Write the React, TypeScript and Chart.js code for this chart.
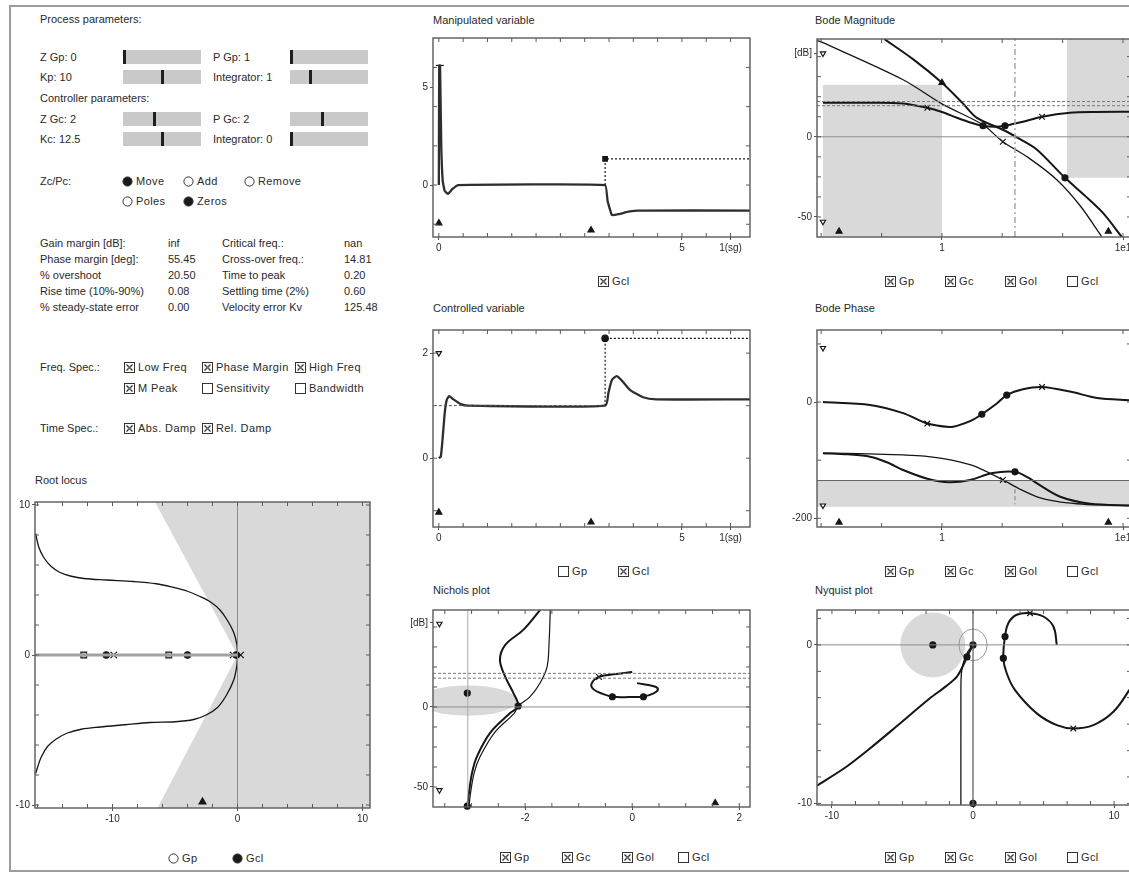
import React, { useEffect, useRef } from "react";
import { Chart, registerables } from "chart.js";

Chart.register(...registerables);

const FONT = '"Liberation Sans", Arial, Helvetica, sans-serif';
Chart.defaults.font.family = FONT;
Chart.defaults.font.size = 10;
Chart.defaults.color = "#2a2a2a";

const INK = "#161616";
const SHADE = "#d9d9d9";
const AXG = "#8c8c8c";

// ---------------- Root locus ----------------
const rlUpperX = [-16.15, -15.9, -15.5, -14.9, -14.2, -13.3, -12.3, -10.5, -8.3, -6.5, -5.1, -4.0, -3.0, -2.1, -1.4, -0.8, -0.3, -0.05, 0];
const rlUpperY = [8.1, 7.2, 6.5, 5.9, 5.5, 5.25, 5.1, 5.0, 4.9, 4.75, 4.5, 4.25, 3.9, 3.5, 3.0, 2.3, 1.5, 0.7, 0];
const rlLowerX = [0, -0.05, -0.3, -0.9, -1.6, -2.5, -3.5, -5.0, -7.0, -9.0, -11.0, -12.5, -13.6, -14.5, -15.2, -15.7, -16.0, -16.15];
const rlLowerY = [0, -0.7, -1.67, -2.7, -3.5, -4.0, -4.3, -4.45, -4.5, -4.65, -4.8, -4.95, -5.2, -5.6, -6.1, -6.8, -7.5, -7.9];
const rlRealX = [-16.2, 0];
const rlRealY = [0, 0];
const rlImagX = [0, 0];
const rlImagY = [-10.2, 10.2];
const rlSquareX = [-12.3, -5.5];
const rlSquareY = [0, 0];
const rlDotX = [-10.5, -4.0, -0.1];
const rlDotY = [0, 0, 0];
const rlCrossX = [-9.9, -0.35, 0.25];
const rlCrossY = [0, 0, 0];
const rlTriX = [-2.8];
const rlTriY = [-9.8];
const rlWedgeX = [-6.6, 0, -6.4, 10.6, 10.6];
const rlWedgeY = [10.2, 0, -10.2, -10.2, 10.2];
const rlTicksX = [-10, 0, 10];
const rlTicksY = [-10, 0, 10];
const rlMinorX = [-16, -14, -12, -10, -8, -6, -4, -2, 0, 2, 4, 6, 8, 10];
const rlMinorY = [-10, -8, -6, -4, -2, 0, 2, 4, 6, 8, 10];

// ---------------- Manipulated variable ----------------
const mvT = [0, 0.008, 0.025, 0.05, 0.08, 0.12, 0.19, 0.28, 0.4, 3.42, 3.47, 3.56, 3.7, 3.9, 4.1, 6.4];
const mvU = [0, 6.1, 6.1, 2.0, 0.2, -0.3, -0.45, -0.2, 0, 0, -0.8, -1.53, -1.48, -1.36, -1.3, -1.3];
const mvStepX = [3.42, 3.42, 6.4];
const mvStepY = [0, 1.33, 1.33];
const mvSqX = [3.42];
const mvSqY = [1.33];
const mvTriX = [0, 3.13];
const mvTriY = [-1.94, -2.3];
const mvPeakX = [0.02];
const mvPeakY = [6.1];
const mvTicksX = [0, 5, 6];
const mvLabelsX = ["0", "5", "1(sg)"];
const mvTicksY = [0, 5];
const timeMinorX = [0, 0.5, 1, 1.5, 2, 2.5, 3, 3.5, 4, 4.5, 5, 5.5, 6];
const mvMinorY = [-2, 0, 2, 4, 6];

// ---------------- Controlled variable ----------------
const cvT = [0, 0.04, 0.08, 0.12, 0.16, 0.21, 0.3, 0.45, 0.6, 3.42, 3.49, 3.56, 3.66, 3.78, 3.93, 4.2, 4.47, 6.4];
const cvY = [0, 0.03, 0.4, 0.85, 1.1, 1.18, 1.12, 1.03, 1.0, 1.0, 1.25, 1.49, 1.56, 1.46, 1.3, 1.16, 1.12, 1.12];
const cvRefX = [0, 3.42];
const cvRefY = [1, 1];
const cvStepX = [3.42, 3.42, 6.4];
const cvStepY = [1.0, 2.28, 2.28];
const cvDotX = [3.42];
const cvDotY = [2.28];
const cvTriX = [0, 3.13];
const cvTriY = [-1.03, -1.22];
const cvDownX = [0];
const cvDownY = [2.0];
const cvTicksY = [0, 2];
const cvMinorY = [-1, 0, 1, 2];

// ---------------- Nichols ----------------
const nicGolX = [-1.72, -2.04, -2.37, -2.47, -2.37, -2.22, -2.13, -2.28, -2.65, -2.9, -2.99, -3.05, -3.08];
const nicGolY = [60.6, 48, 38.8, 29.4, 18.8, 8.8, 0.6, -3.8, -16, -31, -41, -54, -62.5];
const nicGpX = [-1.53, -1.55, -1.59, -1.72, -1.91, -2.13, -2.2, -2.57, -2.84, -2.95, -3.02, -3.05];
const nicGpY = [60.6, 41.9, 25, 15, 6.3, 0.6, -3.8, -16, -31, -41, -54, -62.5];
const nicGcX = [0.0, -0.3, -0.62, -0.76, -0.72, -0.55, -0.37, -0.05, 0.21, 0.4, 0.48, 0.42, 0.09];
const nicGcY = [21.9, 20.6, 18.8, 14.5, 11.0, 8.2, 6.4, 6.2, 6.5, 8.5, 10.8, 12.8, 14.9];
const nicPiX = [-3.07, -3.07];
const nicPiY = [-62.5, 60.6];
const nicZeroX = [-3.72, 2.2];
const nicZeroY = [0, 0];
const nicSpecAX = [-3.72, 2.2];
const nicSpecAY = [21, 21];
const nicSpecBY = [18, 18];
const nicDotX = [-3.08, -2.13, -0.37, 0.21, -3.08];
const nicDotY = [8.7, 0.6, 6.4, 6.4, -62];
const nicCrossX = [-0.62];
const nicCrossY = [18.8];
const nicTriX = [1.55];
const nicTriY = [-60];
const nicDownX = [-3.6, -3.6];
const nicDownY = [52, -52];
const nicEllipse = { cx: -3.07, cy: 4, rx: 0.92, ry: 9.5 };
const nicTicksX = [-2, 0, 2];
const nicTicksY = [-50, 0, 52.5];
const nicLabelsY = ["-50", "0", "[dB]"];
const nicMinorX = [-3.5, -3, -2.5, -2, -1.5, -1, -0.5, 0, 0.5, 1, 1.5, 2];
const nicMinorY = [-50, -37.5, -25, -12.5, 0, 12.5, 25, 37.5, 50];

// ---------------- Bode magnitude ----------------
const bmGcX = [0.22, 0.4, 0.61, 0.83, 1.0, 1.21, 1.45, 1.685, 1.95, 2.23, 2.8, 3.57, 5.1, 7.0, 11.07];
const bmGcY = [21.3, 21.2, 20.8, 18.1, 15.5, 11.9, 8.8, 6.9, 6.3, 6.9, 9.4, 12.5, 15.0, 15.5, 15.6];
const bmGpX = [0.204, 0.22, 0.61, 1.0, 1.685, 2.17, 3.0, 4.32, 5.8, 7.65];
const bmGpY = [60, 58.7, 35.6, 20.5, 7.5, -3.1, -13, -26.9, -43, -62.5];
const bmGolX = [0.48, 0.7, 1.0, 1.3, 1.56, 2.17, 2.7, 3.35, 4.78, 6.2, 7.75, 9.85];
const bmGolY = [61, 48, 33.7, 21, 11.8, 4.4, -1.5, -8.1, -25.6, -37, -47.5, -62.5];
const bmZeroX = [0.204, 11.07];
const bmZeroY = [0, 0];
const bmSpecAY = [22, 22];
const bmSpecBY = [19.4, 19.4];
const bmWcX = [2.53, 2.53];
const bmWcY = [-62.5, 61];
const bmLowX = [0.22, 1.0, 1.0, 0.22];
const bmLowY = [32.5, 32.5, -62.5, -62.5];
const bmHighX = [4.9, 11.07, 11.07, 4.9];
const bmHighY = [61, 61, -25.6, -25.6];
const bmCrossX = [0.83, 3.57, 2.17];
const bmCrossY = [18.1, 12.5, -3.1];
const bmDotX = [1.685, 2.23, 4.78];
const bmDotY = [6.9, 6.9, -25.6];
const bmTriX = [1.0, 0.27, 8.3];
const bmTriY = [33.7, -59, -59];
const bmDownX = [0.22, 0.22];
const bmDownY = [52, -53];
const bodeTicksX = [1, 10];
const bodeLabelsX = ["1", "1e1"];
const bmTicksY = [-50, 0, 52];
const bmLabelsY = ["-50", "0", "[dB]"];
const bodeMinorX = [0.215, 0.464, 1, 2.15, 4.64, 10];
const bmMinorY = [-50, -37.5, -25, -12.5, 0, 12.5, 25, 37.5, 50];

// ---------------- Bode phase ----------------
const bpGcX = [0.22, 0.4, 0.61, 0.83, 1.1, 1.21, 1.45, 1.66, 2.0, 2.28, 2.8, 3.57, 5.1, 7.2, 11.07];
const bpGcY = [0, -5, -19, -37, -43, -41, -32, -21, -3, 12, 22, 26, 18, 7, 3];
const bpGpX = [0.22, 0.4, 0.61, 0.8, 1.0, 1.25, 1.56, 2.17, 2.7, 3.35, 4.3, 5.57, 7.5, 11.07];
const bpGpY = [-88, -89, -91, -93, -97, -103, -112, -134, -150, -163, -171, -175, -177, -178];
const bpGolX = [0.22, 0.3, 0.4, 0.5, 0.61, 0.83, 1.1, 1.43, 1.9, 2.53, 3.0, 3.35, 4.5, 6.6, 11.07];
const bpGolY = [-88, -90, -94, -104, -117, -132, -138, -134, -122, -120, -130, -140, -163, -175, -178];
const bpBandX = [0.204, 11.07, 11.07, 0.204];
const bpBandY = [-135, -135, -180, -180];
const bpLineX = [0.204, 11.07];
const bpLineY = [-135, -135];
const bpWcX = [2.53, 2.53];
const bpWcY = [-150, -176];
const bpCrossX = [0.83, 3.57, 2.17];
const bpCrossY = [-37, 26, -134];
const bpDotX = [1.66, 2.28, 2.53];
const bpDotY = [-21, 12, -120];
const bpTriX = [0.27, 8.3];
const bpTriY = [-207, -207];
const bpDownX = [0.22, 0.22];
const bpDownY = [93, -178];
const bpTicksY = [-200, 0];
const bpMinorY = [-200, -100, 0, 100];

// ---------------- Nyquist ----------------
const nqGolX = [-11.1, -9.0, -7.4, -5.5, -3.1, -1.9, -1.14, -0.7, -0.43, -0.2, 0];
const nqGolY = [-8.9, -7.7, -6.6, -5.2, -3.4, -2.6, -2.0, -1.3, -0.76, -0.35, 0];
const nqGpX = [-0.86, -0.86, -0.85, -0.78, -0.6, -0.35, 0];
const nqGpY = [-10.1, -4, -2.2, -1.5, -0.9, -0.4, 0];
const nqGcX = [5.94, 5.7, 4.99, 4.04, 3.1, 2.5, 2.27, 2.15, 2.39, 2.98, 4.52, 5.94, 7.11, 8.53, 9.95, 11.2];
const nqGcY = [0, 1.16, 1.79, 2.0, 1.9, 1.37, 0.53, -0.84, -1.79, -2.85, -4.32, -5.06, -5.27, -5.06, -4.22, -2.7];
const nqVX = [0, 0];
const nqVY = [-10.1, 2.2];
const nqHX = [-11.06, 11.2];
const nqHY = [0, 0];
const nqDotX = [-2.85, 0, -0.43, 2.27, 2.15, 0];
const nqDotY = [0, 0, -0.76, 0.53, -0.84, -10.0];
const nqCrossX = [4.04, 7.11];
const nqCrossY = [2.0, -5.27];
const nqSpecCircle = { cx: -2.85, cy: 0, rx: 2.3, ry: 2.05 };
const nqUnitCircle = { cx: 0, cy: 0, rx: 1, ry: 1 };
const nqTicksX = [-10, 0, 10];
const nqTicksY = [-10, 0];
const nqMinorX = [-10, -8.33, -6.67, -5, -3.33, -1.67, 0, 1.67, 3.33, 5, 6.67, 8.33, 10];
const nqMinorY = [-10, -8.33, -6.67, -5, -3.33, -1.67, 0, 1.67];

// ---------------- helpers ----------------
const P = (xs: number[], ys: number[]) => xs.map((x, i) => ({ x, y: ys[i] }));
const curve = (xs: number[], ys: number[], width = 1.6, color = INK, dash: number[] = [], tension = 0.3) => ({
  data: P(xs, ys), showLine: true, borderColor: color, borderWidth: width, borderDash: dash,
  pointRadius: 0, tension, fill: false,
});
const marks = (xs: number[], ys: number[], style: string, r = 3.5, fill = INK, rot = 0) => ({
  data: P(xs, ys), showLine: false, pointStyle: style, pointRadius: r, pointBackgroundColor: fill,
  pointBorderColor: INK, pointBorderWidth: 1.2, pointRotation: rot, clip: false,
});

const PAD_L = 34, PAD_T = 6, PAD_R = 8, PAD_B = 22;

type Axis = { type?: string; min: number; max: number; ticks: number[]; labels?: string[]; minor: number[] };
type Spec = { L: number; T: number; R: number; B: number; x: Axis; y: Axis; datasets: any[]; polys?: any[]; ellipses?: any[] };

function makeFramePlugin(spec: Spec) {
  const polys = spec.polys || [];
  const ellipses = spec.ellipses || [];
  const xMinor = spec.x.minor;
  const yMinor = spec.y.minor;
  return {
    id: "frame",
    beforeDatasetsDraw(chart: any) {
      const { ctx, chartArea: a } = chart;
      const xs = chart.scales.x, ys = chart.scales.y;
      ctx.save();
      ctx.beginPath();
      ctx.rect(a.left, a.top, a.right - a.left, a.bottom - a.top);
      ctx.clip();
      polys.forEach((p: any) => {
        ctx.beginPath();
        p.xs.forEach((x: number, i: number) => {
          const px = xs.getPixelForValue(x), py = ys.getPixelForValue(p.ys[i]);
          if (i) ctx.lineTo(px, py); else ctx.moveTo(px, py);
        });
        ctx.closePath();
        ctx.fillStyle = p.color;
        ctx.fill();
      });
      ellipses.forEach((e: any) => {
        const cx = xs.getPixelForValue(e.cx), cy = ys.getPixelForValue(e.cy);
        const rx = Math.abs(xs.getPixelForValue(e.cx + e.rx) - cx);
        const ry = Math.abs(ys.getPixelForValue(e.cy + e.ry) - cy);
        ctx.beginPath();
        ctx.ellipse(cx, cy, rx, ry, 0, 0, Math.PI * 2);
        if (e.fillColor) { ctx.fillStyle = e.fillColor; ctx.fill(); }
        if (e.strokeColor) { ctx.strokeStyle = e.strokeColor; ctx.lineWidth = 1; ctx.stroke(); }
      });
      ctx.restore();
    },
    afterDatasetsDraw(chart: any) {
      const { ctx, chartArea: a } = chart;
      const xs = chart.scales.x, ys = chart.scales.y;
      ctx.save();
      ctx.strokeStyle = "#5a5a5a";
      ctx.lineWidth = 1.4;
      ctx.strokeRect(a.left, a.top, a.right - a.left, a.bottom - a.top);
      ctx.lineWidth = 1;
      ctx.beginPath();
      xMinor.forEach((v: number) => {
        const p = xs.getPixelForValue(v);
        if (p < a.left - 0.5 || p > a.right + 0.5) return;
        ctx.moveTo(p, a.top); ctx.lineTo(p, a.top + 4);
        ctx.moveTo(p, a.bottom); ctx.lineTo(p, a.bottom - 4);
      });
      yMinor.forEach((v: number) => {
        const p = ys.getPixelForValue(v);
        if (p < a.top - 0.5 || p > a.bottom + 0.5) return;
        ctx.moveTo(a.left, p); ctx.lineTo(a.left + 4, p);
        ctx.moveTo(a.right, p); ctx.lineTo(a.right - 4, p);
      });
      ctx.stroke();
      ctx.restore();
    },
  };
}

function axisCfg(a: Axis, dir: "x" | "y") {
  const labels = a.labels || a.ticks.map((v) => String(v));
  return {
    type: a.type || "linear",
    position: dir === "x" ? "bottom" : "left",
    min: a.min,
    max: a.max,
    grid: { display: true, drawOnChartArea: false, drawTicks: true, tickLength: 3, color: "#555" },
    border: { display: false },
    ticks: {
      autoSkip: false, maxRotation: 0, minRotation: 0, padding: 2, color: "#2a2a2a",
      font: { family: FONT, size: 10 },
      callback: (_v: any, i: number) => labels[i] ?? "",
    },
    afterBuildTicks: (s: any) => { s.ticks = a.ticks.map((v) => ({ value: v })); },
    afterFit: (s: any) => {
      if (dir === "x") s.height = PAD_B; else s.width = PAD_L;
      s.paddingLeft = 0; s.paddingRight = 0; s.paddingTop = 0; s.paddingBottom = 0;
    },
  };
}

function buildConfig(spec: Spec) {
  return {
    type: "scatter",
    data: { datasets: spec.datasets },
    options: {
      responsive: false,
      animation: false,
      events: [],
      layout: { padding: { left: 0, top: PAD_T, right: PAD_R, bottom: 0 } },
      plugins: { legend: { display: false }, tooltip: { enabled: false } },
      scales: { x: axisCfg(spec.x, "x"), y: axisCfg(spec.y, "y") },
    },
    plugins: [makeFramePlugin(spec)],
  };
}

function Plot({ spec }: { spec: Spec }) {
  const ref = useRef<HTMLCanvasElement>(null);
  const w = spec.R - spec.L + PAD_L + PAD_R;
  const h = spec.B - spec.T + PAD_T + PAD_B;
  useEffect(() => {
    const chart = new Chart(ref.current as HTMLCanvasElement, buildConfig(spec) as any);
    return () => chart.destroy();
  }, [spec]);
  return (
    <canvas ref={ref} width={w} height={h}
      style={{ position: "absolute", left: spec.L - PAD_L, top: spec.T - PAD_T, width: w, height: h }} />
  );
}

// ---------------- chart specs ----------------
const rootLocus: Spec = {
  L: 35, T: 502, R: 370, B: 808,
  x: { min: -16.2, max: 10.6, ticks: rlTicksX, minor: rlMinorX },
  y: { min: -10.2, max: 10.2, ticks: rlTicksY, minor: rlMinorY },
  polys: [{ xs: rlWedgeX, ys: rlWedgeY, color: SHADE }],
  datasets: [
    curve(rlImagX, rlImagY, 1, AXG, [], 0),
    curve(rlRealX, rlRealY, 3, "#a2a2a2", [], 0),
    curve(rlUpperX, rlUpperY, 1.3, INK, [], 0.35),
    curve(rlLowerX, rlLowerY, 1.3, INK, [], 0.35),
    marks(rlSquareX, rlSquareY, "rect", 4, "#c4c4c4"),
    marks(rlDotX, rlDotY, "circle", 3.2, INK),
    marks(rlCrossX, rlCrossY, "crossRot", 4.5, INK),
    marks(rlTriX, rlTriY, "triangle", 4, INK),
  ],
};

const manipulated: Spec = {
  L: 433, T: 38, R: 750, B: 237,
  x: { min: -0.12, max: 6.4, ticks: mvTicksX, labels: mvLabelsX, minor: timeMinorX },
  y: { min: -2.65, max: 7.5, ticks: mvTicksY, minor: mvMinorY },
  datasets: [
    curve(mvStepX, mvStepY, 1.2, INK, [2, 2], 0),
    curve(mvT, mvU, 2.3, "#2e2e2e", [], 0.1),
    marks(mvSqX, mvSqY, "rect", 3.2, INK),
    marks(mvTriX, mvTriY, "triangle", 3.5, INK),
    marks(mvPeakX, mvPeakY, "line", 4, INK),
  ],
};

const controlled: Spec = {
  L: 433, T: 330, R: 750, B: 527,
  x: { min: -0.12, max: 6.4, ticks: mvTicksX, labels: mvLabelsX, minor: timeMinorX },
  y: { min: -1.31, max: 2.44, ticks: cvTicksY, minor: cvMinorY },
  datasets: [
    curve(cvRefX, cvRefY, 1, "#555", [3, 2], 0),
    curve(cvStepX, cvStepY, 1.2, INK, [2, 2], 0),
    curve(cvT, cvY, 2.3, "#2e2e2e", [], 0.2),
    marks(cvDotX, cvDotY, "circle", 3.2, INK),
    marks(cvTriX, cvTriY, "triangle", 3.5, INK),
    marks(cvDownX, cvDownY, "triangle", 3, "#fff", 180),
  ],
};

const nichols: Spec = {
  L: 433, T: 610, R: 750, B: 807,
  x: { min: -3.72, max: 2.2, ticks: nicTicksX, minor: nicMinorX },
  y: { min: -62.5, max: 60.6, ticks: nicTicksY, labels: nicLabelsY, minor: nicMinorY },
  ellipses: [{ ...nicEllipse, fillColor: SHADE }],
  datasets: [
    curve(nicPiX, nicPiY, 1, "#aaa", [], 0),
    curve(nicZeroX, nicZeroY, 1, AXG, [], 0),
    curve(nicSpecAX, nicSpecAY, 1, "#777", [3, 2], 0),
    curve(nicSpecAX, nicSpecBY, 1, "#777", [3, 2], 0),
    curve(nicGpX, nicGpY, 1.2, INK, [], 0.35),
    curve(nicGolX, nicGolY, 2, INK, [], 0.35),
    curve(nicGcX, nicGcY, 2, INK, [], 0.4),
    marks(nicDotX, nicDotY, "circle", 3, INK),
    marks(nicCrossX, nicCrossY, "crossRot", 4, INK),
    marks(nicTriX, nicTriY, "triangle", 3.5, INK),
    marks(nicDownX, nicDownY, "triangle", 3, "#fff", 180),
  ],
};

const bodeMag: Spec = {
  L: 817, T: 39, R: 1131, B: 237,
  x: { type: "logarithmic", min: 0.204, max: 11.07, ticks: bodeTicksX, labels: bodeLabelsX, minor: bodeMinorX },
  y: { min: -62.5, max: 61, ticks: bmTicksY, labels: bmLabelsY, minor: bmMinorY },
  polys: [
    { xs: bmLowX, ys: bmLowY, color: SHADE },
    { xs: bmHighX, ys: bmHighY, color: SHADE },
  ],
  datasets: [
    curve(bmZeroX, bmZeroY, 1, AXG, [], 0),
    curve(bmZeroX, bmSpecAY, 1, "#777", [3, 2], 0),
    curve(bmZeroX, bmSpecBY, 1, "#777", [3, 2], 0),
    curve(bmWcX, bmWcY, 1.5, "#aaa", [6, 3, 2, 3], 0),
    curve(bmGpX, bmGpY, 1.3, INK, [], 0.3),
    curve(bmGolX, bmGolY, 2, INK, [], 0.3),
    curve(bmGcX, bmGcY, 2, INK, [], 0.3),
    marks(bmCrossX, bmCrossY, "crossRot", 4, INK),
    marks(bmDotX, bmDotY, "circle", 3, INK),
    marks(bmTriX, bmTriY, "triangle", 3.5, INK),
    marks(bmDownX, bmDownY, "triangle", 3, "#fff", 180),
  ],
};

const bodePhase: Spec = {
  L: 817, T: 330, R: 1131, B: 527,
  x: { type: "logarithmic", min: 0.204, max: 11.07, ticks: bodeTicksX, labels: bodeLabelsX, minor: bodeMinorX },
  y: { min: -215, max: 124, ticks: bpTicksY, minor: bpMinorY },
  polys: [{ xs: bpBandX, ys: bpBandY, color: SHADE }],
  datasets: [
    curve(bpLineX, bpLineY, 1, "#666", [], 0),
    curve(bpWcX, bpWcY, 1.5, "#999", [4, 3], 0),
    curve(bpGpX, bpGpY, 1.3, INK, [], 0.3),
    curve(bpGolX, bpGolY, 2, INK, [], 0.3),
    curve(bpGcX, bpGcY, 2, INK, [], 0.3),
    marks(bpCrossX, bpCrossY, "crossRot", 4, INK),
    marks(bpDotX, bpDotY, "circle", 3, INK),
    marks(bpTriX, bpTriY, "triangle", 3.5, INK),
    marks(bpDownX, bpDownY, "triangle", 3, "#fff", 180),
  ],
};

const nyquist: Spec = {
  L: 817, T: 610, R: 1131, B: 805,
  x: { min: -11.06, max: 11.2, ticks: nqTicksX, minor: nqMinorX },
  y: { min: -10.1, max: 2.2, ticks: nqTicksY, minor: nqMinorY },
  ellipses: [{ ...nqSpecCircle, fillColor: SHADE }, { ...nqUnitCircle, strokeColor: "#999" }],
  datasets: [
    curve(nqHX, nqHY, 1, AXG, [], 0),
    curve(nqVX, nqVY, 1.2, "#555", [], 0),
    curve(nqGpX, nqGpY, 1.3, INK, [], 0.2),
    curve(nqGolX, nqGolY, 2, INK, [], 0.3),
    curve(nqGcX, nqGcY, 2, INK, [], 0.4),
    marks(nqDotX, nqDotY, "circle", 3, INK),
    marks(nqCrossX, nqCrossY, "crossRot", 4, INK),
  ],
};

// ---------------- HTML widgets ----------------
const TXT = "#2a2a2a";

function Txt({ x, y, children, size = 11, style }: any) {
  return (
    <div style={{ position: "absolute", left: x, top: y - 7, fontSize: size, lineHeight: "14px", whiteSpace: "nowrap", color: TXT, ...style }}>
      {children}
    </div>
  );
}

function CheckBox({ x, y, label, checked }: any) {
  return (
    <div style={{ position: "absolute", left: x - 5, top: y - 7, height: 14, display: "flex", alignItems: "center", whiteSpace: "nowrap", color: TXT, fontSize: 11, letterSpacing: 0.4 }}>
      <svg width="11" height="11" style={{ marginRight: 3, flex: "none" }}>
        <rect x="0.5" y="0.5" width="10" height="10" fill="#fff" stroke="#333" strokeWidth="1" />
        {checked && <path d="M2.5 2.5L8.5 8.5M8.5 2.5L2.5 8.5" stroke="#333" strokeWidth="1.3" />}
        {checked && <circle cx="5.5" cy="5.5" r="1.6" fill="#777" />}
      </svg>
      {label}
    </div>
  );
}

function Radio({ x, y, label, on }: any) {
  return (
    <div style={{ position: "absolute", left: x - 5, top: y - 7, height: 14, display: "flex", alignItems: "center", whiteSpace: "nowrap", color: TXT, fontSize: 11, letterSpacing: 0.4 }}>
      <svg width="11" height="11" style={{ marginRight: 3, flex: "none" }}>
        <circle cx="5.5" cy="5.5" r="4.6" fill={on ? "#1a1a1a" : "#fff"} stroke="#333" strokeWidth="1" />
      </svg>
      {label}
    </div>
  );
}

function Slider({ x, y, thumb }: any) {
  return (
    <>
      <div style={{ position: "absolute", left: x, top: y, width: 78, height: 14, background: "#c9c9c9" }} />
      <div style={{ position: "absolute", left: thumb - 1, top: y, width: 2.5, height: 14, background: "#1f1f1f" }} />
    </>
  );
}

const sliders = [
  { x: 123, y: 50, thumb: 124 }, { x: 290, y: 50, thumb: 291 },
  { x: 123, y: 70, thumb: 162 }, { x: 290, y: 70, thumb: 310 },
  { x: 123, y: 112, thumb: 154 }, { x: 290, y: 112, thumb: 322 },
  { x: 123, y: 132, thumb: 162 }, { x: 290, y: 132, thumb: 291 },
];

const statRowsY = [243, 259, 275, 291, 307];
const statNames = ["Gain margin [dB]:", "Phase margin [deg]:", "% overshoot", "Rise time (10%-90%)", "% steady-state error"];
const statValues = ["inf", "55.45", "20.50", "0.08", "0.00"];
const statNames2 = ["Critical freq.:", "Cross-over freq.:", "Time to peak", "Settling time (2%)", "Velocity error Kv"];
const statValues2 = ["nan", "14.81", "0.20", "0.60", "125.48"];

const fourLegend = (y: number) => (
  <>
    <CheckBox x={890} y={y} label="Gp" checked />
    <CheckBox x={950} y={y} label="Gc" checked />
    <CheckBox x={1010} y={y} label="Gol" checked />
    <CheckBox x={1072} y={y} label="Gcl" checked={false} />
  </>
);

export default function App() {
  return (
    <div style={{ position: "fixed", left: 0, top: 0, width: 1129, height: 872, overflow: "hidden", background: "#fff", fontFamily: FONT }}>
      <div style={{ position: "absolute", left: 9, top: 5, width: 1160, height: 863, border: "2px solid #9c9c9c" }} />

      {/* left control panel */}
      <Txt x={40} y={19}>Process parameters:</Txt>
      <Txt x={40} y={57}>Z Gp: 0</Txt>
      <Txt x={213} y={57}>P Gp: 1</Txt>
      <Txt x={40} y={77}>Kp: 10</Txt>
      <Txt x={213} y={77}>Integrator: 1</Txt>
      <Txt x={40} y={98}>Controller parameters:</Txt>
      <Txt x={40} y={119}>Z Gc: 2</Txt>
      <Txt x={213} y={119}>P Gc: 2</Txt>
      <Txt x={40} y={139}>Kc: 12.5</Txt>
      <Txt x={213} y={139}>Integrator: 0</Txt>
      {sliders.map((s, i) => <Slider key={i} {...s} />)}

      <Txt x={40} y={181}>Zc/Pc:</Txt>
      <Radio x={127} y={181} label="Move" on />
      <Radio x={188} y={181} label="Add" on={false} />
      <Radio x={249} y={181} label="Remove" on={false} />
      <Radio x={127} y={201} label="Poles" on={false} />
      <Radio x={188} y={201} label="Zeros" on />

      {statRowsY.map((y, i) => (
        <React.Fragment key={i}>
          <Txt x={40} y={y}>{statNames[i]}</Txt>
          <Txt x={168} y={y}>{statValues[i]}</Txt>
          <Txt x={222} y={y}>{statNames2[i]}</Txt>
          <Txt x={344} y={y}>{statValues2[i]}</Txt>
        </React.Fragment>
      ))}

      <Txt x={40} y={367}>Freq. Spec.:</Txt>
      <CheckBox x={129} y={367} label="Low Freq" checked />
      <CheckBox x={207} y={367} label="Phase Margin" checked />
      <CheckBox x={300} y={367} label="High Freq" checked />
      <CheckBox x={129} y={388} label="M Peak" checked />
      <CheckBox x={207} y={388} label="Sensitivity" checked={false} />
      <CheckBox x={300} y={388} label="Bandwidth" checked={false} />
      <Txt x={40} y={428}>Time Spec.:</Txt>
      <CheckBox x={129} y={428} label="Abs. Damp" checked />
      <CheckBox x={207} y={428} label="Rel. Damp" checked />

      {/* titles */}
      <Txt x={35} y={480} size={11}>Root locus</Txt>
      <Txt x={433} y={20} size={11}>Manipulated variable</Txt>
      <Txt x={433} y={308} size={11}>Controlled variable</Txt>
      <Txt x={433} y={590} size={11}>Nichols plot</Txt>
      <Txt x={815} y={20} size={11}>Bode Magnitude</Txt>
      <Txt x={815} y={308} size={11}>Bode Phase</Txt>
      <Txt x={815} y={590} size={11}>Nyquist plot</Txt>

      <Plot spec={rootLocus} />
      <Plot spec={manipulated} />
      <Plot spec={controlled} />
      <Plot spec={nichols} />
      <Plot spec={bodeMag} />
      <Plot spec={bodePhase} />
      <Plot spec={nyquist} />

      {/* legends */}
      <Radio x={173} y={858} label="Gp" on={false} />
      <Radio x={237} y={858} label="Gcl" on />
      <CheckBox x={603} y={281} label="Gcl" checked />
      <CheckBox x={563} y={571} label="Gp" checked={false} />
      <CheckBox x={623} y={571} label="Gcl" checked />
      <CheckBox x={505} y={857} label="Gp" checked />
      <CheckBox x={567} y={857} label="Gc" checked />
      <CheckBox x={627} y={857} label="Gol" checked />
      <CheckBox x={683} y={857} label="Gcl" checked={false} />
      {fourLegend(281)}
      {fourLegend(571)}
      {fourLegend(857)}
    </div>
  );
}
